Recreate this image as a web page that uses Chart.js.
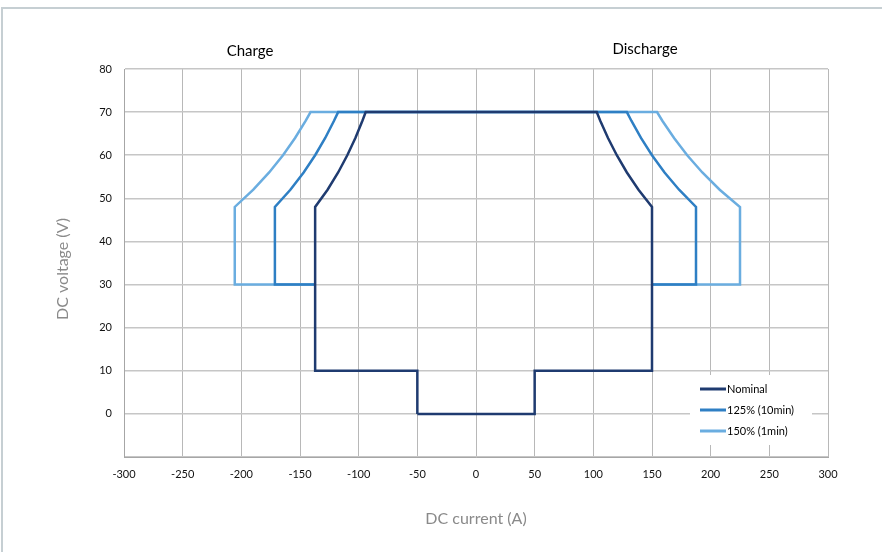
<!DOCTYPE html>
<html>
<head>
<meta charset="utf-8">
<script src="https://cdn.jsdelivr.net/npm/chart.js@4.4.1/dist/chart.umd.min.js"></script>
<style>
  html, body { margin: 0; padding: 0; background: #fff; }
  canvas { display: block; }
</style>
</head>
<body>
<canvas id="mycanvas" width="882" height="552"></canvas>
<script>
var seriesNames = ['Nominal', '125% (10min)', '150% (1min)'];
var seriesColors = ['#1F3B70', '#2E7FC4', '#6AADE0'];

// nominal envelope: current (A) / voltage (V)
var nominalA = [-50, 50, 50, 150, 150, 138.5, 128.6, 120, 112.5, 105.9, 102.9, -94, -96.8, -102.8, -109.7, -117.5, -126.5, -137.1, -137.1, -50, -50];
var nominalV = [0, 0, 10, 10, 48, 52, 56, 60, 64, 68, 70, 70, 68, 64, 60, 56, 52, 48, 10, 10, 0];

// overload envelopes (start on the nominal line at 30 V)
var over125A = [-137.1, -171.4, -171.4, -158.2, -146.9, -137.1, -128.5, -121, -117.5, 128.6, 132.4, 140.6, 150, 160.7, 173.1, 187.5, 187.5, 150];
var over150A = [-137.1, -205.6, -205.6, -189.8, -176.3, -164.5, -154.2, -145.1, -141, 154.3, 158.8, 168.8, 180, 192.9, 207.7, 225, 225, 150];
var overV = [30, 30, 48, 52, 56, 60, 64, 68, 70, 70, 68, 64, 60, 56, 52, 48, 30, 30];

var sideTitles = ['Charge', 'Discharge'];

function toPoints(xs, ys) {
    return xs.map(function(x, i) { return { x: x, y: ys[i] }; });
}

var seriesPoints = [
    toPoints(nominalA, nominalV),
    toPoints(over125A, overV),
    toPoints(over150A, overV)
];

var datasets = seriesPoints.map(function(pts, i) {
    return {
        label: seriesNames[i],
        data: pts,
        showLine: true,
        borderColor: seriesColors[i],
        backgroundColor: seriesColors[i],
        borderWidth: 2.5,
        pointRadius: 0,
        fill: false
    };
});

//frame, side titles, y title and legend box
var extras = {
    id: 'extras',
    beforeDraw: function(chart) {
        var c = chart.ctx;
        c.save();
        c.strokeStyle = '#c6cfd3';
        c.lineWidth = 2;
        c.beginPath();
        c.moveTo(2, 552);
        c.lineTo(2, 8);
        c.lineTo(882, 8);
        c.stroke();
        c.restore();
    },
    afterDraw: function(chart) {
        var c = chart.ctx;
        c.save();
        c.fillStyle = '#000';
        c.font = '15px Lato';
        c.textAlign = 'center';
        c.textBaseline = 'middle';
        c.fillText(sideTitles[0], 250, 51);
        c.fillText(sideTitles[1], 645, 49);

        // y axis title
        c.save();
        c.translate(63, 269);
        c.rotate(-Math.PI / 2);
        c.fillStyle = '#8a8a8a';
        c.font = '16px Lato';
        c.fillText('DC voltage (V)', 0, 0);
        c.restore();

        c.fillStyle = '#fff';
        c.fillRect(690, 375, 122, 70);
        c.font = '11px Lato';
        c.textAlign = 'left';
        var rows = [389, 410, 431];
        chart.data.datasets.forEach(function(ds, i) {
            c.strokeStyle = ds.borderColor;
            c.lineWidth = 3;
            c.beginPath();
            c.moveTo(700, rows[i]);
            c.lineTo(726, rows[i]);
            c.stroke();
            c.fillStyle = '#000';
            c.fillText(ds.label, 727, rows[i]);
        });
        c.restore();
    }
};

var chart1 = new Chart(document.getElementById('mycanvas'), {
    type: 'scatter',
    data: { datasets: datasets },
    plugins: [extras],
    options: {
        responsive: false,
        animation: false,
        layout: { padding: { left: 0, top: 69, right: 54, bottom: 0 } },
        plugins: {
            legend: { display: false },
            tooltip: { enabled: false }
        },
        scales: {
            x: {
                type: 'linear',
                min: -300,
                max: 300,
                afterFit: function(s) { s.height = 95; },
                ticks: { stepSize: 50, padding: 11, color: '#111', font: { family: 'Lato', size: 11 } },
                grid: { color: '#b8b8b8', lineWidth: 1, drawTicks: false },
                border: { color: '#a6a6a6' },
                title: {
                    display: true,
                    text: 'DC current (A)',
                    color: '#8a8a8a',
                    font: { family: 'Lato', size: 16 },
                    padding: { top: 0, bottom: 24 }
                }
            },
            y: {
                type: 'linear',
                min: -10,
                max: 80,
                afterFit: function(s) { s.width = 124; },
                ticks: {
                    stepSize: 10,
                    padding: 12,
                    color: '#111',
                    font: { family: 'Lato', size: 11 },
                    callback: function(v) { return v === -10 ? '' : v; }
                },
                grid: { color: '#c6c6c6', lineWidth: 1.5, drawTicks: false },
                border: { color: '#a6a6a6' }
            }
        }
    }
});
</script>
</body>
</html>
